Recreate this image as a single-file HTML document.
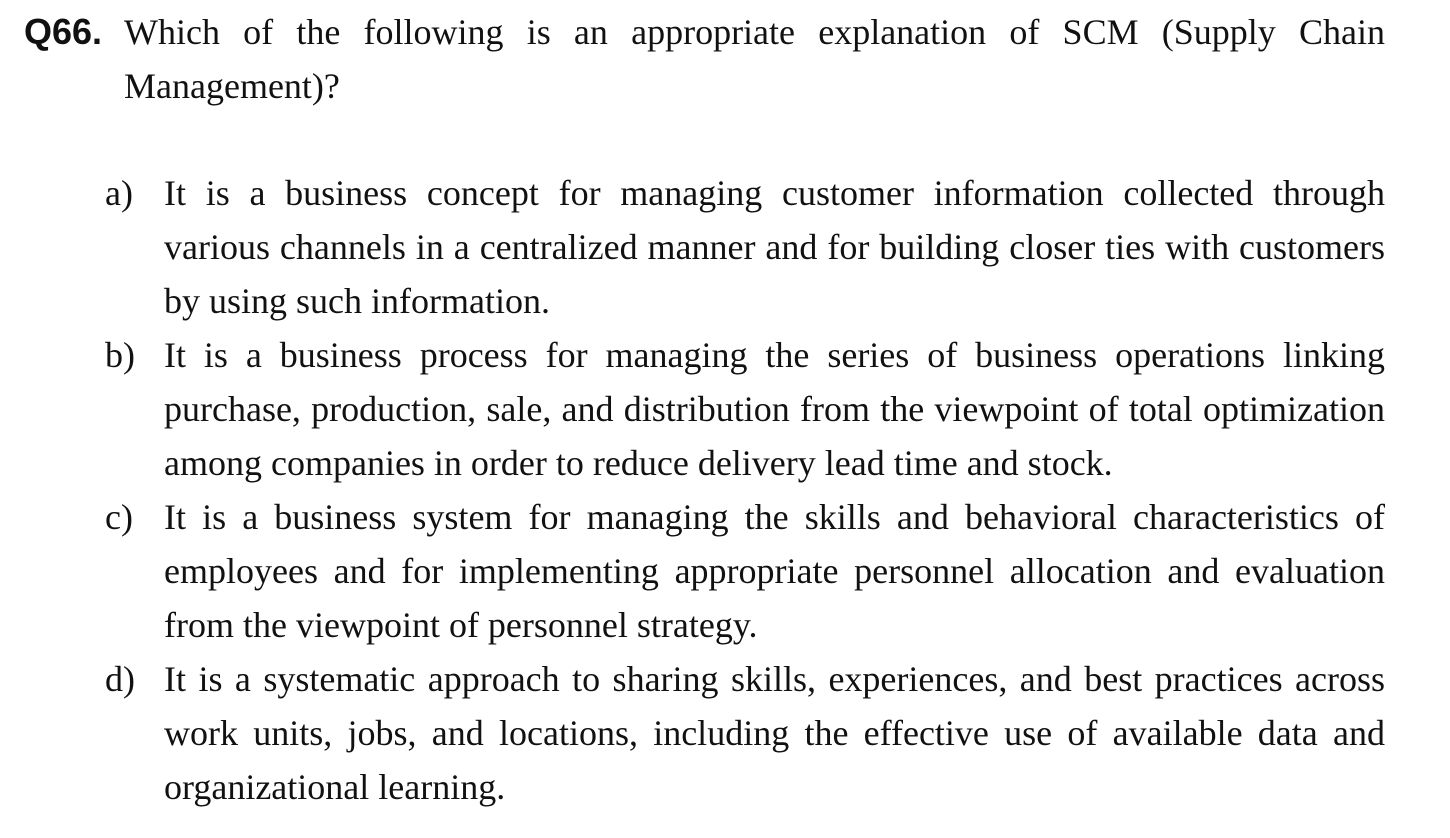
<!DOCTYPE html>
<html>
<head>
<meta charset="utf-8">
<style>
html,body{margin:0;padding:0;background:#fff;}
body{width:1450px;height:838px;position:relative;overflow:hidden;}
.l{position:absolute;height:54px;line-height:54px;font-family:"Liberation Serif",serif;font-size:36px;color:#111;white-space:nowrap;}
.j{text-align:justify;text-align-last:justify;}
.q{position:absolute;left:24px;top:5px;line-height:54px;font-family:"Liberation Sans",sans-serif;font-weight:bold;font-size:36px;color:#111;}
.lab{position:absolute;left:105px;line-height:54px;font-family:"Liberation Serif",serif;font-size:36px;color:#111;}
</style>
</head>
<body>
<div class="q">Q66.</div>
<div>
<div class="l j" style="left:124px;width:1261px;top:5px;">Which of the following is an appropriate explanation of SCM (Supply Chain</div>
<div class="l" style="left:124px;top:59px;">Management)?</div>
</div>

<div>
<div class="lab" style="top:166px;">a)</div>
<div class="l j" style="left:164px;width:1221px;top:166px;">It is a business concept for managing customer information collected through</div>
<div class="l j" style="left:164px;width:1221px;top:220px;">various channels in a centralized manner and for building closer ties with customers</div>
<div class="l" style="left:164px;top:274px;">by using such information.</div>
</div>

<div>
<div class="lab" style="top:328px;">b)</div>
<div class="l j" style="left:164px;width:1221px;top:328px;">It is a business process for managing the series of business operations linking</div>
<div class="l j" style="left:164px;width:1221px;top:382px;">purchase, production, sale, and distribution from the viewpoint of total optimization</div>
<div class="l" style="left:164px;top:436px;">among companies in order to reduce delivery lead time and stock.</div>
</div>

<div>
<div class="lab" style="top:490px;">c)</div>
<div class="l j" style="left:164px;width:1221px;top:490px;">It is a business system for managing the skills and behavioral characteristics of</div>
<div class="l j" style="left:164px;width:1221px;top:544px;">employees and for implementing appropriate personnel allocation and evaluation</div>
<div class="l" style="left:164px;top:598px;">from the viewpoint of personnel strategy.</div>
</div>

<div>
<div class="lab" style="top:652px;">d)</div>
<div class="l j" style="left:164px;width:1221px;top:652px;">It is a systematic approach to sharing skills, experiences, and best practices across</div>
<div class="l j" style="left:164px;width:1221px;top:706px;">work units, jobs, and locations, including the effective use of available data and</div>
<div class="l" style="left:164px;top:760px;">organizational learning.</div>
</div>
</body>
</html>
